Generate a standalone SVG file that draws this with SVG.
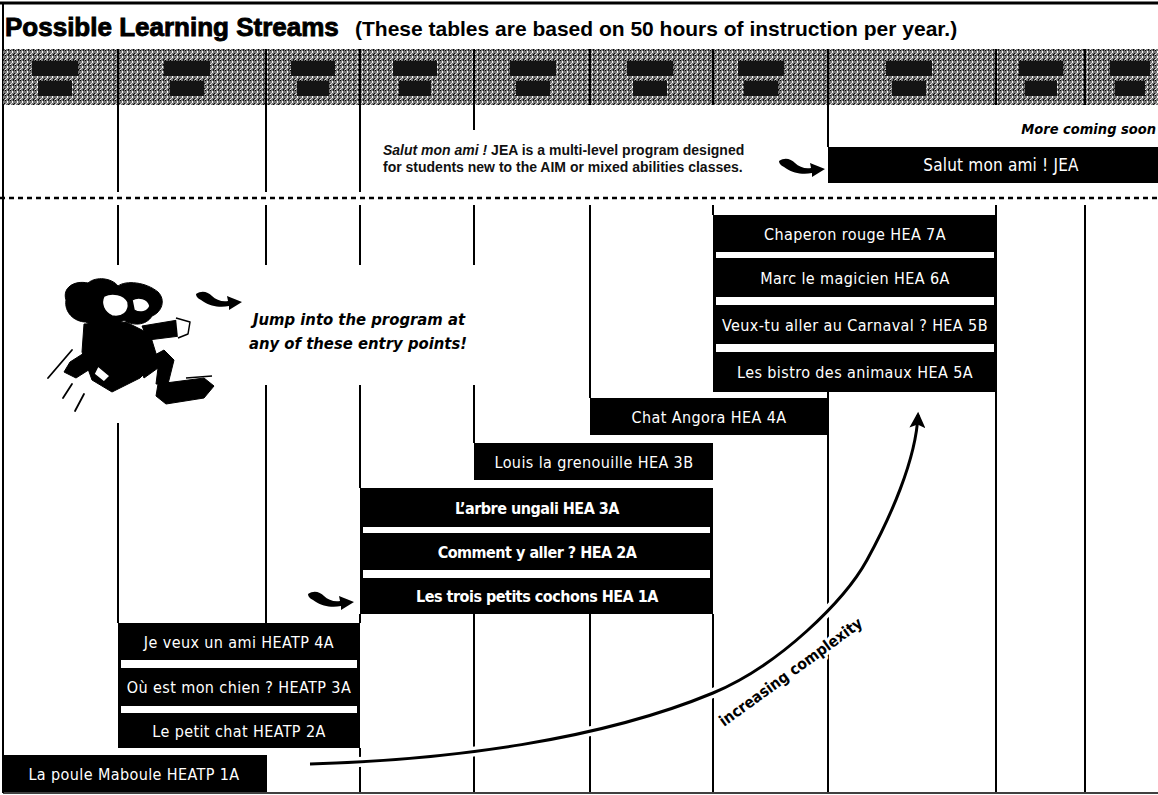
<svg xmlns="http://www.w3.org/2000/svg" width="1158" height="795" viewBox="0 0 1158 795">
  <defs>
    <style>
      .vl { stroke:#000; stroke-width:2; fill:none; }
      .bar { fill:#000; }
      .sep { fill:#fff; }
      .lt { font-family:"Liberation Sans Narrow","DejaVu Sans Condensed","Liberation Sans",sans-serif; font-size:16px; fill:#fff; letter-spacing:0.4px; text-anchor:middle; }
      .bd { font-family:"Liberation Sans Narrow","DejaVu Sans Condensed","Liberation Sans",sans-serif; font-size:16px; font-weight:bold; fill:#fff; letter-spacing:-0.5px; text-anchor:middle; }
      .md { font-family:"Liberation Sans Narrow","DejaVu Sans Condensed","Liberation Sans",sans-serif; font-size:17px; fill:#fff; letter-spacing:0.2px; text-anchor:middle; }
      .desc { font-family:"Liberation Sans",Arial,sans-serif; font-size:14px; font-weight:bold; fill:#111; }
      .jump { font-family:"Liberation Sans Narrow","DejaVu Sans Condensed","Liberation Sans",sans-serif; font-size:16.5px; font-weight:bold; font-style:italic; fill:#000; }
      .hdblk { fill:#141414; }
    </style>
    <pattern id="grain" width="5" height="5" patternUnits="userSpaceOnUse">
      <rect width="5" height="5" fill="#777"/>
      <rect x="0" y="0" width="1" height="1" fill="#000"/>
      <rect x="2" y="1" width="1" height="2" fill="#fff"/>
      <rect x="4" y="3" width="1" height="1" fill="#111"/>
      <rect x="1" y="3" width="1" height="1" fill="#ccc"/>
      <rect x="3" y="0" width="1" height="1" fill="#222"/>
      <rect x="0" y="4" width="1" height="1" fill="#eee"/>
      <rect x="3" y="4" width="1" height="1" fill="#000"/>
    </pattern>
    <!-- curled pointer arrow -->
    <path id="swoosh" d="M0,4 C6,0 12,2 16,6 C20,10 26,12 32,11 L31,6 L46,12 L33,20 L33,16 C24,18 14,16 8,12 C4,9 0,8 0,4 Z"/>
    <marker id="tip" viewBox="0 0 10 10" refX="8" refY="5" markerWidth="20" markerHeight="16" orient="auto" markerUnits="userSpaceOnUse">
      <path d="M0,0 L10,5 L0,10 L2,5 Z" fill="#000"/>
    </marker>
  </defs>

  <rect width="1158" height="795" fill="#fff"/>

  <!-- frame -->
  <g id="frame">
    <line x1="0" y1="3" x2="1158" y2="3" stroke="#000" stroke-width="3"/>
    <line x1="3" y1="3" x2="3" y2="793" class="vl"/>
    <line x1="3" y1="793" x2="1158" y2="793" stroke="#000" stroke-width="1.5"/>
  </g>

  <!-- title -->
  <g id="title">
    <text x="5" y="36" font-family="'Liberation Sans',Arial,sans-serif" font-weight="bold" font-size="26" fill="#000" stroke="#000" stroke-width="0.9">Possible Learning Streams</text>
    <text x="355" y="36" font-family="'Liberation Sans',Arial,sans-serif" font-weight="bold" font-size="21" fill="#000">(These tables are based on 50 hours of instruction per year.)</text>
  </g>

  <!-- header row -->
  <g id="header">
    <rect x="3" y="49" width="1155" height="56" fill="url(#grain)"/>
    <g class="hdblk">
      <rect x="32" y="61" width="46" height="15"/><rect x="38" y="81" width="34" height="15"/>
      <rect x="164" y="61" width="46" height="15"/><rect x="170" y="81" width="34" height="15"/>
      <rect x="291" y="61" width="44" height="15"/><rect x="297" y="81" width="32" height="15"/>
      <rect x="393" y="61" width="44" height="15"/><rect x="399" y="81" width="32" height="15"/>
      <rect x="510" y="61" width="46" height="15"/><rect x="516" y="81" width="34" height="15"/>
      <rect x="627" y="61" width="46" height="15"/><rect x="633" y="81" width="34" height="15"/>
      <rect x="738" y="61" width="46" height="15"/><rect x="744" y="81" width="34" height="15"/>
      <rect x="886" y="61" width="46" height="15"/><rect x="892" y="81" width="34" height="15"/>
      <rect x="1019" y="61" width="44" height="15"/><rect x="1025" y="81" width="32" height="15"/>
      <rect x="1110" y="61" width="40" height="15"/><rect x="1115" y="81" width="30" height="15"/>
    </g>
    <g class="vl">
      <line x1="118" y1="49" x2="118" y2="105"/>
      <line x1="266" y1="49" x2="266" y2="105"/>
      <line x1="360" y1="49" x2="360" y2="105"/>
      <line x1="474" y1="49" x2="474" y2="105"/>
      <line x1="590" y1="49" x2="590" y2="105"/>
      <line x1="713" y1="49" x2="713" y2="105"/>
      <line x1="828" y1="49" x2="828" y2="105"/>
      <line x1="996" y1="49" x2="996" y2="105"/>
      <line x1="1085" y1="49" x2="1085" y2="105"/>
    </g>
  </g>

  <!-- column rules -->
  <g id="rules" class="vl">
    <line x1="118" y1="105" x2="118" y2="192"/>
    <line x1="266" y1="105" x2="266" y2="192"/>
    <line x1="360" y1="105" x2="360" y2="192"/>
    <line x1="474" y1="105" x2="474" y2="130"/>
    <line x1="828" y1="105" x2="828" y2="147"/>

    <line x1="118" y1="205" x2="118" y2="265"/>
    <line x1="118" y1="423" x2="118" y2="623"/>
    <line x1="266" y1="205" x2="266" y2="265"/>
    <line x1="266" y1="385" x2="266" y2="623"/>
    <line x1="360" y1="205" x2="360" y2="265"/>
    <line x1="360" y1="385" x2="360" y2="488"/>
    <line x1="360" y1="614" x2="360" y2="623"/>
    <line x1="360" y1="748" x2="360" y2="792"/>
    <line x1="474" y1="205" x2="474" y2="265"/>
    <line x1="474" y1="385" x2="474" y2="443"/>
    <line x1="474" y1="614" x2="474" y2="792"/>
    <line x1="590" y1="205" x2="590" y2="398"/>
    <line x1="590" y1="614" x2="590" y2="792"/>
    <line x1="713" y1="205" x2="713" y2="215"/>
    <line x1="713" y1="614" x2="713" y2="792"/>
    <line x1="828" y1="392" x2="828" y2="792"/>
    <line x1="996" y1="205" x2="996" y2="215"/>
    <line x1="996" y1="392" x2="996" y2="792"/>
    <line x1="1085" y1="205" x2="1085" y2="792"/>
  </g>

  <!-- multi-level note -->
  <g id="note">
    <text x="1156" y="134" text-anchor="end" font-family="'Liberation Sans Narrow','DejaVu Sans Condensed','Liberation Sans',sans-serif" font-size="14.5" font-weight="bold" font-style="italic" fill="#000">More coming soon</text>
    <text x="383" y="155" class="desc"><tspan font-style="italic">Salut mon ami !</tspan> JEA is a multi-level program designed</text>
    <text x="383" y="172" class="desc">for students new to the AIM or mixed abilities classes.</text>
    <use href="#swoosh" transform="translate(779,157)"/>
  </g>

  <g id="salut">
    <rect class="bar" x="828" y="147" width="330" height="36"/>
    <text class="md" x="1001" y="171">Salut mon ami ! JEA</text>
  </g>

  <line id="divider" x1="0" y1="198" x2="1158" y2="198" stroke="#000" stroke-width="2.5" stroke-dasharray="5 4"/>

  <!-- HEA 5A to 7A stack -->
  <g id="hea-upper">
    <rect class="bar" x="713" y="215" width="284" height="177"/>
    <rect class="sep" x="716" y="252" width="278" height="6"/>
    <rect class="sep" x="716" y="297" width="278" height="8"/>
    <rect class="sep" x="716" y="344" width="278" height="8"/>
    <text class="lt" x="855" y="240">Chaperon rouge HEA 7A</text>
    <text class="lt" x="855" y="284">Marc le magicien HEA 6A</text>
    <text class="lt" x="855" y="331">Veux-tu aller au Carnaval ? HEA 5B</text>
    <text class="lt" x="855" y="378">Les bistro des animaux HEA 5A</text>
  </g>

  <g id="hea-4a">
    <rect class="bar" x="590" y="398" width="238" height="37"/>
    <text class="lt" x="709" y="423">Chat Angora HEA 4A</text>
  </g>

  <g id="hea-3b">
    <rect class="bar" x="474" y="443" width="239" height="37"/>
    <text class="lt" x="594" y="468">Louis la grenouille HEA 3B</text>
  </g>

  <g id="hea-lower">
    <rect class="bar" x="360" y="488" width="353" height="126"/>
    <rect class="sep" x="363" y="527" width="347" height="6"/>
    <rect class="sep" x="363" y="570" width="347" height="8"/>
    <text class="bd" x="537" y="514">L’arbre ungali HEA 3A</text>
    <text class="bd" x="537" y="558">Comment y aller ? HEA 2A</text>
    <text class="bd" x="537" y="602">Les trois petits cochons HEA 1A</text>
  </g>

  <g id="heatp">
    <rect class="bar" x="118" y="623" width="242" height="125"/>
    <rect class="sep" x="121" y="660" width="236" height="8"/>
    <rect class="sep" x="121" y="706" width="236" height="7"/>
    <text class="lt" x="239" y="648">Je veux un ami HEATP 4A</text>
    <text class="lt" x="239" y="693">Où est mon chien ? HEATP 3A</text>
    <text class="lt" x="239" y="737">Le petit chat HEATP 2A</text>
  </g>

  <g id="heatp-1a">
    <rect class="bar" x="3" y="755" width="264" height="37"/>
    <text class="lt" x="134" y="780">La poule Maboule HEATP 1A</text>
  </g>

  <!-- entry-point callout -->
  <g id="entry">
    <use href="#swoosh" transform="translate(196,290)"/>
    <text class="jump" x="359" y="325" text-anchor="middle">Jump into the program at</text>
    <text class="jump" x="358" y="349" text-anchor="middle">any of these entry points!</text>
    <use href="#swoosh" transform="translate(308,590)"/>
  </g>

  <!-- leaping figure -->
  <g id="jumper" fill="#000" stroke="#000" stroke-linejoin="round">
    <path d="M66,300 C62,288 74,280 88,283 C96,276 112,278 118,286 C126,280 146,282 158,292 C166,300 162,312 152,316 C146,326 132,326 124,320 C114,328 96,330 86,322 C74,322 64,312 66,300 Z"/>
    <path d="M104,296 C112,292 124,294 128,302 C130,312 122,318 112,316 C104,312 100,304 104,296 Z" fill="#fff" stroke-width="1.5"/>
    <path d="M132,300 C138,296 148,298 150,306 C148,312 140,314 134,310 Z" fill="#fff" stroke-width="1.5"/>
    <path d="M84,324 L126,322 L150,334 L158,360 L140,378 L112,392 L92,380 L82,352 Z"/>
    <path d="M142,326 L178,320 L186,328 L180,336 L148,340 Z"/>
    <path d="M176,318 L190,322 L188,334 L178,338" fill="#fff" stroke-width="1.5"/>
    <path d="M92,348 L70,362 L64,372 L76,378 L98,364 Z"/>
    <path d="M138,364 L164,350 L174,360 L168,384 L156,384 L158,368 L144,378 Z"/>
    <path d="M158,384 L204,378 L214,386 L204,398 L166,404 L156,396 Z"/>
    <path d="M186,378 L212,376" stroke-width="1.5" fill="none"/>
    <path d="M98,366 L110,376 L104,382 L94,374 Z" fill="#fff" stroke-width="1.5"/>
    <g fill="none" stroke-width="1.8" stroke-linecap="round">
      <line x1="48" y1="378" x2="72" y2="350"/>
      <line x1="63" y1="398" x2="72" y2="384"/>
      <line x1="75" y1="411" x2="84" y2="394"/>
    </g>
  </g>

  <!-- complexity arrow -->
  <g id="connectors">
    <path d="M310,764 C450,760 600,740 713,693 C780,665 845,600 867,560 C890,518 916,460 918,415" fill="none" stroke="#fff" stroke-width="10"/>
    <path d="M310,764 C450,760 600,740 713,693 C780,665 845,600 867,560 C890,518 916,460 918,415" fill="none" stroke="#000" stroke-width="3" marker-end="url(#tip)"/>
    <text x="724" y="727" transform="rotate(-36 724 727)" font-family="'Liberation Sans Narrow','DejaVu Sans Condensed','Liberation Sans',sans-serif" font-size="15.5" font-weight="bold" fill="#000" stroke="#fff" stroke-width="6" paint-order="stroke" stroke-linejoin="round">increasing complexity</text>
  </g>
</svg>
